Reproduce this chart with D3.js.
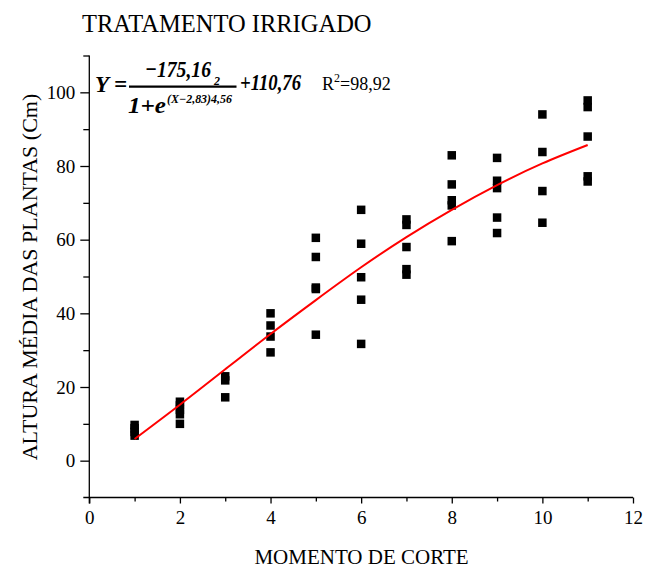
<!DOCTYPE html>
<html>
<head>
<meta charset="utf-8">
<script src="https://cdn.jsdelivr.net/npm/d3@7"></script>
<style>
  html, body { margin: 0; padding: 0; background: #fff; }
  svg { display: block; }
  text { font-family: "Liberation Serif", "Times New Roman", serif; fill: #000; }
</style>
</head>
<body>
<svg id="chart" width="646" height="568"></svg>
<script>
// ---- data ----
const title = "TRATAMENTO IRRIGADO";
const xLabel = "MOMENTO DE CORTE";
const yLabel = "ALTURA MÉDIA DAS PLANTAS (Cm)";
const moments = [1, 2, 3, 4, 5, 6, 7, 8, 9, 10, 11];
const alturas = [
  [9.7, 8.8, 7.8, 6.8],
  [16.0, 15.0, 13.8, 12.6, 10.0],
  [22.9, 21.8, 17.2],
  [40.0, 36.7, 33.7, 29.4],
  [60.5, 55.3, 47.0, 46.6, 34.2],
  [68.1, 58.9, 49.8, 43.7, 31.7],
  [65.5, 64.0, 58.0, 52.0, 50.5],
  [82.9, 75.0, 70.7, 69.3, 59.6],
  [82.2, 76.0, 74.0, 66.0, 61.8],
  [94.0, 83.8, 73.2, 64.6],
  [97.8, 96.0, 88.0, 77.2, 75.8]
];
const fitted = [5.9, 15.2, 24.8, 34.4, 43.6, 52.5, 60.7, 68.1, 74.8, 80.7, 85.7];
const xTicks = [0, 2, 4, 6, 8, 10, 12];
const xMinor = [1, 3, 5, 7, 9, 11];
const yTicks = [0, 20, 40, 60, 80, 100];
const yMinor = [10, 30, 50, 70, 90, 110];

// ---- chart ----
const svg = d3.select("#chart");
const x = d3.scaleLinear().domain([0, 12]).range([89.3, 633]);
const y = d3.scaleLinear().domain([-10, 110]).range([497.5, 55.5]);

// y axis
const yAxisG = svg.append("g").attr("transform", `translate(${x(0)},0)`);
yAxisG.call(d3.axisLeft(y).tickValues(yTicks).tickSize(9).tickPadding(5).tickFormat(d3.format("d")))
  .call(g => g.select(".domain").remove());
yAxisG.append("g").call(d3.axisLeft(y).tickValues(yMinor).tickSize(6).tickFormat(""))
  .call(g => g.select(".domain").remove());
yAxisG.append("line").attr("x1", 0).attr("x2", 0).attr("y1", y(110)).attr("y2", y(-10) + 6)
  .attr("stroke", "#000").attr("stroke-width", 1.3);

// x axis
const xAxisG = svg.append("g").attr("transform", `translate(0,${y(-10)})`);
xAxisG.call(d3.axisBottom(x).tickValues(xTicks).tickSize(6).tickPadding(7).tickFormat(d3.format("d")))
  .call(g => g.select(".domain").remove());
xAxisG.append("g").call(d3.axisBottom(x).tickValues(xMinor).tickSize(4).tickFormat(""))
  .call(g => g.select(".domain").remove());
xAxisG.append("line").attr("x1", x(0) - 6).attr("x2", x(12)).attr("y1", 0).attr("y2", 0)
  .attr("stroke", "#000").attr("stroke-width", 1.3);

svg.selectAll(".tick line").attr("stroke", "#000").attr("stroke-width", 1.3);
svg.selectAll(".tick text").style("font-family", '"Liberation Serif", serif').style("font-size", "19px").attr("fill", "#000");

// points
const pts = [];
moments.forEach((m, i) => alturas[i].forEach(v => pts.push({ m, v })));
const s = 8.5;
svg.append("g").selectAll("rect").data(pts).join("rect")
  .attr("x", d => x(d.m) - s / 2).attr("y", d => y(d.v) - s / 2)
  .attr("width", s).attr("height", s).attr("fill", "#000");

// fitted curve
const line = d3.line().x((d, i) => x(moments[i])).y(d => y(d)).curve(d3.curveNatural);
svg.append("path").datum(fitted).attr("d", line)
  .attr("fill", "none").attr("stroke", "#ff0000").attr("stroke-width", 2);

// titles
svg.append("text").attr("x", 82).attr("y", 32).style("font-size", "24.5px").text(title);
svg.append("text").attr("x", 361.5).attr("y", 564).attr("text-anchor", "middle").style("font-size", "21px").text(xLabel);
svg.append("text").attr("transform", "translate(37,277) rotate(-90)").attr("text-anchor", "middle")
  .style("font-size", "22px").text(yLabel);

// equation (bold italic, horizontally condensed to the reference widths)
const eq = svg.append("g").style("font-weight", "bold").style("font-style", "italic");
function fitText(str, px, py, size, width) {
  const g = eq.append("g");
  const t = g.append("text").attr("x", 0).attr("y", 0).style("font-size", size + "px").text(str);
  const w = t.node().getComputedTextLength();
  g.attr("transform", `translate(${px},${py}) scale(${width / w},1)`);
}
fitText("Y =", 95, 92, 24, 32);
fitText("\u2212175,16", 145, 77, 24, 66);
fitText("2", 214, 85, 12, 6);
eq.append("line").attr("x1", 129).attr("x2", 236.5).attr("y1", 86.7).attr("y2", 86.7)
  .attr("stroke", "#000").attr("stroke-width", 2.2);
fitText("1+e", 128, 113, 24, 38);
fitText("(X\u22122,83)4,56", 167, 103, 12, 65);
fitText("+110,76", 240, 90, 24, 61);

const r2 = svg.append("text").attr("x", 322).attr("y", 90).style("font-size", "18px");
r2.append("tspan").text("R");
r2.append("tspan").attr("dy", -8).style("font-size", "12px").text("2");
r2.append("tspan").attr("dy", 8).text("=98,92");
</script>
</body>
</html>
